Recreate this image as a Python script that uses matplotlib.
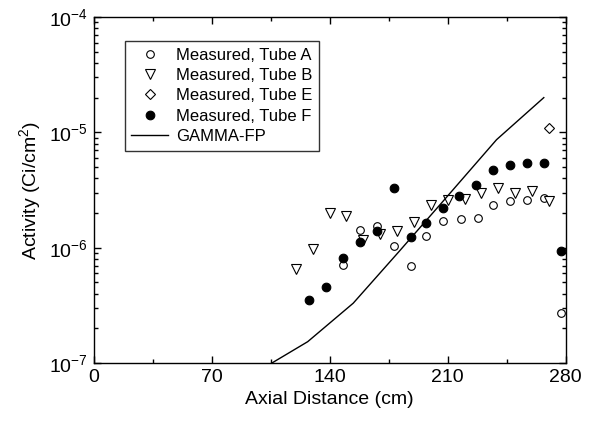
import numpy as np
import matplotlib
matplotlib.use('Agg')
from matplotlib import pyplot as plt
from matplotlib.ticker import MultipleLocator, LogLocator, NullFormatter

plt.rcParams['font.family'] = 'Liberation Sans'
plt.rcParams['mathtext.fontset'] = 'custom'
plt.rcParams['mathtext.rm'] = 'Liberation Sans'
plt.rcParams['mathtext.it'] = 'Liberation Sans'

# measured activity [Ci/cm^2] vs axial distance [cm]
tube_a_x = [148, 158, 168, 178, 188, 197, 207, 218, 228, 237, 247, 257, 267, 277]
tube_a_y = [7.1e-7, 1.41e-6, 1.54e-6, 1.03e-6, 6.97e-7, 1.25e-6, 1.71e-6, 1.78e-6,
            1.80e-6, 2.35e-6, 2.53e-6, 2.60e-6, 2.67e-6, 2.74e-7]

tube_b_x = [120, 130, 140, 150, 160, 170, 180, 190, 200, 210, 220, 230, 240, 250, 260, 270]
tube_b_y = [6.5e-7, 9.7e-7, 1.99e-6, 1.88e-6, 1.17e-6, 1.32e-6, 1.39e-6, 1.67e-6,
            2.35e-6, 2.58e-6, 2.62e-6, 2.98e-6, 3.28e-6, 2.99e-6, 3.07e-6, 2.56e-6]

tube_e_x = [270]
tube_e_y = [1.09e-5]

tube_f_x = [128, 138, 148, 158, 168, 178, 188, 197, 207, 217, 227, 237, 247, 257, 267, 277]
tube_f_y = [3.51e-7, 4.55e-7, 8.18e-7, 1.13e-6, 1.39e-6, 3.28e-6, 1.23e-6, 1.62e-6,
            2.20e-6, 2.82e-6, 3.51e-6, 4.67e-6, 5.16e-6, 5.45e-6, 5.41e-6, 9.3e-7]

# GAMMA-FP calculation
gamma_x = [100, 127, 154, 181, 208, 239, 267]
gamma_y = [8.9e-8, 1.53e-7, 3.30e-7, 9.2e-7, 2.6e-6, 8.64e-6, 2.0e-5]

fig = plt.figure(figsize=(5.92, 4.33), dpi=100)
ax = fig.add_axes([0.158, 0.1617, 0.7976, 0.799])

ax.plot(tube_a_x, tube_a_y, 'o', mfc='white', mec='black', mew=0.8, ms=5.5,
        label='Measured, Tube A')
ax.plot(tube_b_x, tube_b_y, 'v', mfc='white', mec='black', mew=0.8, ms=6.5,
        label='Measured, Tube B')
ax.plot(tube_e_x, tube_e_y, 'D', mfc='white', mec='black', mew=0.8, ms=5,
        label='Measured, Tube E')
ax.plot(tube_f_x, tube_f_y, 'o', mfc='black', mec='black', mew=0.8, ms=6.2,
        label='Measured, Tube F')
ax.plot(gamma_x, gamma_y, '-', color='black', lw=1.0, label='GAMMA-FP')

ax.set_yscale('log')
ax.set_xlim(0, 280)
ax.set_ylim(1e-7, 1e-4)

ax.xaxis.set_major_locator(MultipleLocator(70))
ax.xaxis.set_minor_locator(MultipleLocator(35))
ax.yaxis.set_major_locator(LogLocator(base=10, numticks=10))
ax.yaxis.set_minor_locator(LogLocator(base=10, subs=np.arange(2, 10), numticks=20))
ax.yaxis.set_minor_formatter(NullFormatter())

ax.tick_params(which='both', direction='in', top=True, right=True, labelsize=14, width=1)
ax.tick_params(which='major', length=5, pad=4)
ax.tick_params(which='minor', length=3)
for s in ax.spines.values():
    s.set_linewidth(1)

ax.set_xlabel('Axial Distance (cm)', fontsize=14)
ax.set_ylabel('Activity (Ci/cm$^2$)', fontsize=14)

leg = ax.legend(loc='upper left', bbox_to_anchor=(0.066, 0.931), borderaxespad=0,
                fontsize=12, frameon=True, fancybox=False, edgecolor='black',
                handlelength=2.2, labelspacing=0.32, borderpad=0.4, handletextpad=0.5)
leg.get_frame().set_linewidth(1)

fig.savefig('out.png', dpi=100)
